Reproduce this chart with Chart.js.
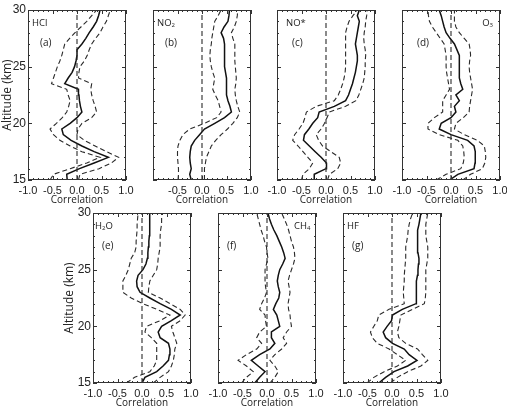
<!DOCTYPE html>
<html>
<head>
<meta charset="utf-8">
<script src="https://cdn.jsdelivr.net/npm/chart.js@4.4.0/dist/chart.umd.min.js"></script>
<style>
  html, body { margin: 0; padding: 0; background: #fff; }
  #wrap { position: relative; width: 507px; height: 410px; overflow: hidden; }
  #wrap canvas { position: absolute; }
</style>
</head>
<body>
<div id="wrap"></div>
<script>
// altitude grid (km), bottom to top
const altitude = [15, 15.5, 16, 16.5, 17, 17.5, 18, 18.5, 19, 19.5, 20, 20.5, 21, 21.5, 22, 22.5,
                  23, 23.5, 24, 24.5, 25, 25.5, 26, 26.5, 27, 27.5, 28, 28.5, 29, 29.5, 30];
const xTicks = [-1.0, -0.5, 0.0, 0.5, 1.0];
const yTicks = [15, 20, 25, 30];

// (a) HCl
const hclCorr = [-0.2, -0.21, 0.05, 0.35, 0.64, 0.35, 0.1, -0.12, -0.28, -0.31, -0.14, 0.0, 0.1, 0.07, 0.05, 0.04,
                 0.03, -0.25, -0.18, -0.1, -0.05, -0.02, 0.0, 0.0, 0.1, 0.18, 0.25, 0.33, 0.4, 0.44, 0.47];
const hclHigh = [0.03, 0.06, 0.45, 0.7, 0.85, 0.6, 0.37, 0.15, 0.0, 0.02, 0.1, 0.3, 0.4, 0.37, 0.33, 0.3,
                 0.28, 0.3, 0.03, 0.04, 0.06, 0.15, 0.21, 0.25, 0.3, 0.38, 0.47, 0.53, 0.6, 0.64, 0.68];
const hclLow = [-0.55, -0.48, -0.14, 0.2, 0.47, 0.1, -0.14, -0.35, -0.48, -0.55, -0.42, -0.3, -0.21, -0.17, -0.14, -0.18,
                -0.21, -0.52, -0.48, -0.44, -0.4, -0.35, -0.31, -0.28, -0.25, -0.15, -0.04, 0.08, 0.2, 0.3, 0.4];

// (b) NO2
const no2Corr = [-0.22, -0.25, -0.22, -0.24, -0.25, -0.24, -0.22, -0.15, -0.05, 0.05, 0.26, 0.46, 0.6, 0.57, 0.53, 0.5,
                 0.5, 0.5, 0.5, 0.48, 0.46, 0.46, 0.46, 0.46, 0.46, 0.44, 0.39, 0.45, 0.53, 0.55, 0.56];
const no2High = [0.05, 0.05, 0.05, 0.07, 0.09, 0.14, 0.19, 0.28, 0.39, 0.52, 0.63, 0.72, 0.77, 0.73, 0.7, 0.68,
                 0.67, 0.69, 0.7, 0.69, 0.68, 0.67, 0.67, 0.67, 0.67, 0.63, 0.6, 0.66, 0.7, 0.72, 0.73];
const no2Low = [-0.49, -0.48, -0.48, -0.49, -0.5, -0.5, -0.49, -0.45, -0.39, -0.25, 0.05, 0.3, 0.39, 0.36, 0.33, 0.27,
                0.22, 0.24, 0.26, 0.22, 0.19, 0.17, 0.16, 0.17, 0.19, 0.2, 0.22, 0.24, 0.26, 0.33, 0.39];

// (c) NO*
const noCorr = [-0.24, -0.24, 0.0, 0.01, -0.1, -0.22, -0.34, -0.46, -0.44, -0.35, -0.27, -0.17, -0.14, 0.17, 0.4, 0.46,
                0.5, 0.54, 0.57, 0.6, 0.62, 0.64, 0.64, 0.62, 0.6, 0.62, 0.64, 0.66, 0.68, 0.64, 0.68];
const noHigh = [0.03, 0.07, 0.24, 0.3, 0.27, 0.1, -0.07, -0.15, -0.2, -0.1, -0.03, 0.02, 0.07, 0.4, 0.61, 0.67,
                0.71, 0.75, 0.78, 0.79, 0.8, 0.8, 0.81, 0.8, 0.78, 0.77, 0.78, 0.8, 0.81, 0.83, 0.84];
const noLow = [-0.5, -0.47, -0.34, -0.27, -0.37, -0.47, -0.57, -0.68, -0.64, -0.55, -0.47, -0.43, -0.4, -0.2, 0.17, 0.25,
               0.3, 0.34, 0.37, 0.39, 0.4, 0.4, 0.4, 0.4, 0.4, 0.4, 0.4, 0.43, 0.47, 0.55, 0.64];

// (d) O3
const o3Corr = [-0.03, 0.14, 0.47, 0.49, 0.5, 0.49, 0.47, 0.34, 0.0, -0.24, -0.2, 0.0, 0.1, 0.07, 0.17, 0.1,
                0.24, 0.2, 0.17, 0.17, 0.17, 0.17, 0.17, 0.12, 0.07, -0.02, -0.1, -0.14, -0.17, -0.2, -0.24];
const o3High = [0.24, 0.4, 0.64, 0.69, 0.71, 0.7, 0.68, 0.54, 0.27, 0.07, 0.1, 0.25, 0.37, 0.38, 0.4, 0.42,
                0.44, 0.42, 0.4, 0.38, 0.37, 0.38, 0.4, 0.39, 0.37, 0.27, 0.17, 0.1, 0.07, 0.07, 0.07];
const o3Low = [-0.3, -0.1, 0.2, 0.25, 0.27, 0.26, 0.24, 0.14, -0.24, -0.47, -0.47, -0.34, -0.17, -0.17, -0.17, -0.1,
               -0.03, -0.05, -0.07, -0.09, -0.1, -0.1, -0.1, -0.12, -0.14, -0.22, -0.3, -0.38, -0.44, -0.46, -0.47];

// (e) H2O
const h2oCorr = [0.0, 0.06, 0.3, 0.43, 0.54, 0.56, 0.57, 0.54, 0.37, 0.33, 0.4, 0.6, 0.78, 0.6, 0.37, 0.16,
                 -0.04, -0.1, -0.11, -0.08, 0.02, 0.08, 0.11, 0.12, 0.13, 0.14, 0.15, 0.15, 0.16, 0.16, 0.16];
const h2oHigh = [0.23, 0.37, 0.54, 0.6, 0.64, 0.66, 0.67, 0.71, 0.67, 0.63, 0.6, 0.78, 0.88, 0.78, 0.57, 0.37,
                 0.13, 0.14, 0.16, 0.23, 0.3, 0.32, 0.33, 0.35, 0.37, 0.37, 0.37, 0.38, 0.4, 0.4, 0.4];
const h2oLow = [-0.32, -0.15, 0.16, 0.25, 0.3, 0.3, 0.3, 0.3, 0.19, 0.06, 0.09, 0.37, 0.57, 0.3, 0.02, -0.22,
                -0.39, -0.39, -0.39, -0.33, -0.28, -0.25, -0.22, -0.15, -0.12, -0.12, -0.11, -0.1, -0.1, -0.09, -0.08];

// (f) CH4
const ch4Corr = [-0.25, -0.15, -0.04, -0.18, -0.32, -0.15, 0.06, 0.16, 0.09, 0.09, 0.26, 0.23, 0.2, 0.13, 0.18, 0.24,
                 0.26, 0.23, 0.21, 0.23, 0.26, 0.32, 0.37, 0.34, 0.3, 0.25, 0.2, 0.14, 0.09, 0.05, 0.02];
const ch4High = [0.06, 0.16, 0.23, 0.16, 0.06, 0.16, 0.3, 0.4, 0.33, 0.4, 0.5, 0.48, 0.47, 0.44, 0.43, 0.45,
                 0.47, 0.45, 0.43, 0.46, 0.5, 0.54, 0.57, 0.56, 0.54, 0.5, 0.47, 0.44, 0.4, 0.35, 0.3];
const ch4Low = [-0.52, -0.42, -0.28, -0.42, -0.59, -0.42, -0.21, -0.11, -0.21, -0.15, -0.01, -0.03, -0.04, -0.15, -0.11, -0.05,
                -0.01, -0.03, -0.04, -0.04, -0.04, -0.01, 0.02, 0.0, -0.01, -0.05, -0.08, -0.12, -0.15, -0.18, -0.21];

// (g) HF
const hfCorr = [-0.27, -0.13, 0.04, 0.32, 0.51, 0.35, 0.25, 0.01, -0.13, -0.18, -0.1, -0.01, 0.01, 0.21, 0.49, 0.49,
                0.49, 0.5, 0.51, 0.52, 0.53, 0.54, 0.55, 0.53, 0.52, 0.52, 0.52, 0.53, 0.55, 0.57, 0.59];
const hfHigh = [-0.03, 0.11, 0.32, 0.59, 0.73, 0.62, 0.52, 0.28, 0.14, 0.11, 0.14, 0.16, 0.18, 0.42, 0.66, 0.68,
                0.69, 0.69, 0.69, 0.69, 0.69, 0.71, 0.73, 0.73, 0.73, 0.71, 0.69, 0.69, 0.69, 0.71, 0.73];
const hfLow = [-0.51, -0.37, -0.16, 0.11, 0.28, 0.11, -0.06, -0.3, -0.4, -0.44, -0.37, -0.3, -0.27, -0.06, 0.25, 0.24,
               0.23, 0.24, 0.25, 0.25, 0.26, 0.27, 0.28, 0.28, 0.28, 0.3, 0.32, 0.33, 0.35, 0.38, 0.42];

// panel layout: plot-area left/top in page pixels, label offsets
const panels = [
  { tag: '(a)', name: 'HCl',  corr: hclCorr, high: hclHigh, low: hclLow, left: 28,  top: 10,  yAxis: 28, nameX: 4,  nameAlign: 'left', tagX: 12, noLeftLabel: false },
  { tag: '(b)', name: 'NO_2', corr: no2Corr, high: no2High, low: no2Low, left: 153, top: 10,  yAxis: 0,  nameX: 4,  nameAlign: 'left', tagX: 12, noLeftLabel: true },
  { tag: '(c)', name: 'NO*',  corr: noCorr,  high: noHigh,  low: noLow,  left: 277, top: 10,  yAxis: 0,  nameX: 9,  nameAlign: 'left', tagX: 15, noLeftLabel: false },
  { tag: '(d)', name: 'O_3',  corr: o3Corr,  high: o3High,  low: o3Low,  left: 402, top: 10,  yAxis: 0,  nameX: 91, nameAlign: 'right', tagX: 15, noLeftLabel: false },
  { tag: '(e)', name: 'H_2O', corr: h2oCorr, high: h2oHigh, low: h2oLow, left: 93,  top: 213, yAxis: 31, nameX: 2,  nameAlign: 'left', tagX: 9,  noLeftLabel: false },
  { tag: '(f)', name: 'CH_4', corr: ch4Corr, high: ch4High, low: ch4Low, left: 218, top: 213, yAxis: 0,  nameX: 76, nameAlign: 'left', tagX: 9,  noLeftLabel: false },
  { tag: '(g)', name: 'HF',   corr: hfCorr,  high: hfHigh,  low: hfLow,  left: 343, top: 213, yAxis: 0,  nameX: 4,  nameAlign: 'left', tagX: 9,  noLeftLabel: false }
];

const PLOT_W = 98, PLOT_H = 170, PAD_TOP = 10, PAD_RIGHT = 12, X_AXIS_H = 28, MIN_Y_AXIS = 14;

function pts(arr) {
  return arr.map((v, i) => ({ x: v, y: altitude[i] }));
}

// draws a species name, text after '_' is one subscript character
function drawName(ctx, name, x, y, align) {
  const parts = [];
  for (let i = 0; i < name.length; i++) {
    if (name[i] === '_') { parts.push({ t: name[i + 1], sub: true }); i++; }
    else parts.push({ t: name[i], sub: false });
  }
  const big = '9.5px "Open Sans"', small = '6px "Open Sans"';
  let w = 0;
  parts.forEach(p => { ctx.font = p.sub ? small : big; w += ctx.measureText(p.t).width; });
  let cx = align === 'right' ? x - w : x;
  parts.forEach(p => {
    ctx.font = p.sub ? small : big;
    ctx.fillText(p.t, cx, p.sub ? y + 2.5 : y);
    cx += ctx.measureText(p.t).width;
  });
}

const framePlugin = {
  id: 'frame',
  afterDatasetsDraw(chart, args, opts) {
    const { ctx, chartArea: a, scales: { x, y } } = chart;
    ctx.save();
    ctx.strokeStyle = '#333';
    ctx.lineWidth = 1;
    ctx.strokeRect(Math.round(a.left) + 0.5, Math.round(a.top) + 0.5, Math.round(a.width) - 1, Math.round(a.height) - 1);
    ctx.beginPath();
    for (let i = -10; i <= 10; i++) {
      const px = Math.round(x.getPixelForValue(i / 10)) + 0.5;
      const len = i % 5 === 0 ? 4 : 2;
      ctx.moveTo(px, a.bottom); ctx.lineTo(px, a.bottom - len);
      ctx.moveTo(px, a.top); ctx.lineTo(px, a.top + len);
    }
    for (let v = 15; v <= 30; v++) {
      const py = Math.round(y.getPixelForValue(v)) + 0.5;
      const len = v % 5 === 0 ? 4 : 2;
      ctx.moveTo(a.left, py); ctx.lineTo(a.left + len, py);
      ctx.moveTo(a.right, py); ctx.lineTo(a.right - len, py);
    }
    ctx.stroke();

    ctx.fillStyle = '#222';
    ctx.textBaseline = 'middle';
    const p = opts.panel;
    drawName(ctx, p.name, a.left + p.nameX, a.top + 13, p.nameAlign);
    ctx.font = '10px "Open Sans"';
    ctx.textAlign = 'left';
    ctx.fillText(p.tag, a.left + p.tagX, a.top + 33);
    ctx.restore();
  }
};

const wrap = document.getElementById('wrap');

panels.forEach(p => {
  const yW = Math.max(p.yAxis, MIN_Y_AXIS);
  const canvas = document.createElement('canvas');
  canvas.width = yW + PLOT_W + PAD_RIGHT;
  canvas.height = PAD_TOP + PLOT_H + X_AXIS_H;
  canvas.style.left = (p.left - yW) + 'px';
  canvas.style.top = (p.top - PAD_TOP) + 'px';
  wrap.appendChild(canvas);

  const dashed = { borderColor: '#2a2a2a', borderWidth: 1.1, borderDash: [5, 3], showLine: true, pointRadius: 0, fill: false };
  const showY = p.yAxis > 0;

  new Chart(canvas.getContext('2d'), {
    type: 'scatter',
    data: {
      datasets: [
        { ...dashed, data: [{ x: 0, y: yTicks[0] }, { x: 0, y: yTicks[yTicks.length - 1] }] },
        { ...dashed, data: pts(p.low) },
        { ...dashed, data: pts(p.high) },
        { data: pts(p.corr), borderColor: '#111', borderWidth: 1.5, showLine: true, pointRadius: 0, fill: false }
      ]
    },
    options: {
      responsive: false,
      animation: false,
      devicePixelRatio: 1,
      layout: { padding: { top: PAD_TOP, right: PAD_RIGHT, left: 0, bottom: 0 } },
      plugins: {
        legend: { display: false },
        tooltip: { enabled: false },
        frame: { panel: p }
      },
      scales: {
        x: {
          type: 'linear',
          min: xTicks[0],
          max: xTicks[xTicks.length - 1],
          afterBuildTicks: (scale) => { scale.ticks = xTicks.map(v => ({ value: v })); },
          afterFit: (scale) => { scale.height = X_AXIS_H; },
          grid: { display: false, drawTicks: false },
          border: { display: false },
          ticks: {
            autoSkip: false,
            maxRotation: 0,
            padding: 4,
            color: '#222',
            font: { family: '"Liberation Sans", Arial', size: 11 },
            callback: (v) => (p.noLeftLabel && v === -1) ? '' : v.toFixed(1)
          },
          title: {
            display: true,
            text: 'Correlation',
            color: '#222',
            padding: { top: 0, bottom: 2 },
            font: { family: '"Open Sans"', size: 10 }
          }
        },
        y: {
          type: 'linear',
          min: yTicks[0],
          max: yTicks[yTicks.length - 1],
          afterBuildTicks: (scale) => { scale.ticks = yTicks.map(v => ({ value: v })); },
          afterFit: (scale) => { scale.width = yW; },
          grid: { display: false, drawTicks: false },
          border: { display: false },
          ticks: {
            display: showY,
            padding: 2,
            color: '#222',
            font: { family: '"Liberation Sans", Arial', size: 12 }
          },
          title: {
            display: showY,
            text: 'Altitude (km)',
            color: '#222',
            padding: { top: 0, bottom: 0 },
            font: { family: '"Open Sans"', size: 12 }
          }
        }
      }
    },
    plugins: [framePlugin]
  });
});
</script>
</body>
</html>
